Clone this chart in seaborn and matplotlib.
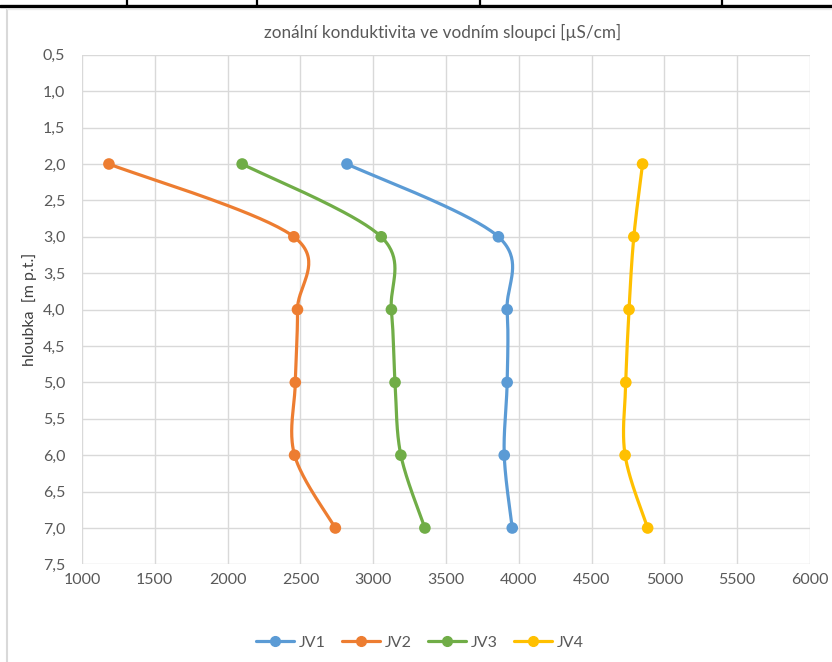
import numpy as np
import pandas as pd
import matplotlib
matplotlib.use("Agg")
import matplotlib.pyplot as plt
from matplotlib.lines import Line2D
import seaborn as sns

# depth below terrain [m] and conductivity per well [uS/cm]
depth = [2.0, 3.0, 4.0, 5.0, 6.0, 7.0]
jv1 = [2820, 3860, 3920, 3920, 3900, 3955]
jv2 = [1185, 2455, 2480, 2465, 2460, 2740]
jv3 = [2100, 3055, 3125, 3150, 3190, 3355]
jv4 = [4850, 4790, 4757, 4735, 4730, 4885]
series_names = ["JV1", "JV2", "JV3", "JV4"]
colors = ["#5B9BD5", "#ED7D31", "#70AD47", "#FFC000"]

x_ticks = list(range(1000, 6001, 500))
y_ticks = [0.5 + 0.5 * i for i in range(15)]

W, H = 832, 662
left, right, top, bottom = 82, 810, 54.8, 564.4

sns.set_theme(style="white")
plt.rcParams["font.family"] = ["Lato", "DejaVu Sans"]

fig = plt.figure(figsize=(W / 100, H / 100), dpi=100)
ax = fig.add_axes([left / W, 1 - bottom / H, (right - left) / W, (bottom - top) / H])

xmin, xmax, ymin, ymax = 1000, 6000, 0.5, 7.5
sx = (right - left) / (xmax - xmin)
sy = (bottom - top) / (ymax - ymin)


def smooth(xs, ys, n=40):
    """Bezier smoothing (Catmull-Rom style) computed in screen proportions."""
    P = np.column_stack([np.asarray(xs, float) * sx, np.asarray(ys, float) * sy])
    out = []
    for i in range(len(P) - 1):
        p0 = P[i - 1] if i > 0 else P[i]
        p1, p2 = P[i], P[i + 1]
        p3 = P[i + 2] if i + 2 < len(P) else P[i + 1]
        c1 = p1 + (p2 - p0) / 6
        c2 = p2 - (p3 - p1) / 6
        t = np.linspace(0, 1, n)[:, None]
        seg = ((1 - t) ** 3) * p1 + 3 * ((1 - t) ** 2) * t * c1 + 3 * (1 - t) * t ** 2 * c2 + t ** 3 * p2
        out.append(seg if i == 0 else seg[1:])
    C = np.vstack(out)
    return C[:, 0] / sx, C[:, 1] / sy


rows, pts = [], []
for name, vals in zip(series_names, [jv1, jv2, jv3, jv4]):
    cx, cy = smooth(vals, depth)
    rows.append(pd.DataFrame({"x": cx, "y": cy, "s": name, "o": np.arange(len(cx))}))
    pts.append(pd.DataFrame({"x": vals, "y": depth, "s": name}))
curves = pd.concat(rows, ignore_index=True)
points = pd.concat(pts, ignore_index=True)

palette = dict(zip(series_names, colors))
sns.lineplot(data=curves, x="x", y="y", hue="s", units="s", estimator=None, sort=False,
             palette=palette, linewidth=2.3, legend=False, ax=ax, zorder=3)
sns.scatterplot(data=points, x="x", y="y", hue="s", palette=palette, s=70,
                edgecolor="none", legend=False, ax=ax, zorder=4)

ax.set_xlim(xmin, xmax)
ax.set_ylim(ymax, ymin)
ax.set_xticks(x_ticks)
ax.set_yticks(y_ticks)
ax.set_xticklabels([str(v) for v in x_ticks])
ax.set_yticklabels([f"{v:.1f}".replace(".", ",") for v in y_ticks])
ax.grid(True, color="#D9D9D9", linewidth=1.0)
ax.set_axisbelow(True)
for sp in ax.spines.values():
    sp.set_visible(False)
ax.tick_params(axis="both", length=0, labelsize=11.5, colors="#595959")
ax.tick_params(axis="y", pad=12)
ax.tick_params(axis="x", pad=6)
ax.set_xlabel("")
ax.set_ylabel("hloubka  [m p.t.]", fontsize=11.5, color="#404040", labelpad=4)

fig.text(443 / W, 1 - 32 / H, "zonální konduktivita ve vodním sloupci [µS/cm]",
         ha="center", va="center", fontsize=12.3, color="#595959")

handles = [Line2D([0], [0], color=c, lw=2.3, marker="o", markersize=7) for c in colors]
fig.legend(handles, series_names, loc="center", bbox_to_anchor=(420 / W, 1 - 643 / H),
           ncol=4, frameon=False, fontsize=11.5, labelcolor="#595959",
           handlelength=2.4, columnspacing=1.0, handletextpad=0.3)

# surrounding sheet borders
fig.add_artist(Line2D([0, 1], [1 - 6 / H, 1 - 6 / H], color="black", lw=2.4, transform=fig.transFigure))
for xv in [127, 257, 480, 722]:
    fig.add_artist(Line2D([xv / W, xv / W], [1, 1 - 6 / H], color="black", lw=1.6, transform=fig.transFigure))
fig.add_artist(Line2D([7 / W, 7 / W], [0, 1 - 9 / H], color="#D9D9D9", lw=1.5, transform=fig.transFigure))
fig.add_artist(Line2D([7 / W, 1], [1 - 9 / H, 1 - 9 / H], color="#EBEBEB", lw=1.0, transform=fig.transFigure))

fig.savefig("out.png", dpi=100)
